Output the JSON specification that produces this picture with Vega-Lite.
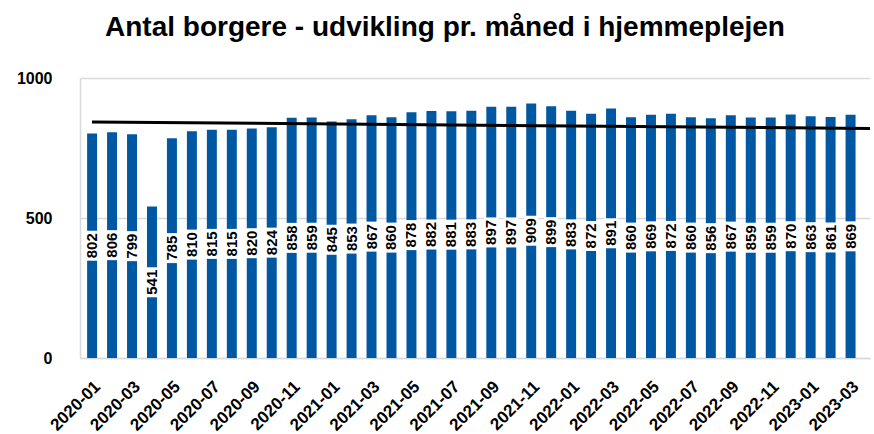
{
  "$schema": "https://vega.github.io/schema/vega-lite/v6.json",
  "width": 790,
  "height": 280,
  "autosize": "none",
  "padding": {"left": 80, "top": 78, "right": 4, "bottom": 76},
  "background": "white",
  "config": {"font": "Liberation Sans", "view": {"stroke": null}},
  "title": {"text": "Antal borgere - udvikling pr. måned i hjemmeplejen", "font": "Liberation Sans", "fontSize": 28, "fontWeight": "bold", "color": "#000000", "anchor": "middle", "dx": -30, "offset": 28},
  "datasets": {
    "main": [
      {"month": "2020-01", "value": 802}, {"month": "2020-02", "value": 806}, {"month": "2020-03", "value": 799},
      {"month": "2020-04", "value": 541}, {"month": "2020-05", "value": 785}, {"month": "2020-06", "value": 810},
      {"month": "2020-07", "value": 815}, {"month": "2020-08", "value": 815}, {"month": "2020-09", "value": 820},
      {"month": "2020-10", "value": 824}, {"month": "2020-11", "value": 858}, {"month": "2020-12", "value": 859},
      {"month": "2021-01", "value": 845}, {"month": "2021-02", "value": 853}, {"month": "2021-03", "value": 867},
      {"month": "2021-04", "value": 860}, {"month": "2021-05", "value": 878}, {"month": "2021-06", "value": 882},
      {"month": "2021-07", "value": 881}, {"month": "2021-08", "value": 883}, {"month": "2021-09", "value": 897},
      {"month": "2021-10", "value": 897}, {"month": "2021-11", "value": 909}, {"month": "2021-12", "value": 899},
      {"month": "2022-01", "value": 883}, {"month": "2022-02", "value": 872}, {"month": "2022-03", "value": 891},
      {"month": "2022-04", "value": 860}, {"month": "2022-05", "value": 869}, {"month": "2022-06", "value": 872},
      {"month": "2022-07", "value": 860}, {"month": "2022-08", "value": 856}, {"month": "2022-09", "value": 867},
      {"month": "2022-10", "value": 859}, {"month": "2022-11", "value": 859}, {"month": "2022-12", "value": 870},
      {"month": "2023-01", "value": 863}, {"month": "2023-02", "value": 861}, {"month": "2023-03", "value": 869}
    ],
    "trend": [
      {"t": 1, "value": 843},
      {"t": 40, "value": 820}
    ]
  },
  "layer": [
    {
      "data": {"name": "main"},
      "layer": [
        {
          "mark": {"type": "bar", "color": "#0058a3"},
          "encoding": {
            "x": {"field": "month", "type": "ordinal", "sort": null,
              "scale": {"paddingInner": 0.5, "paddingOuter": 0.54, "align": 0.33},
              "axis": {"title": null, "labelAngle": -45, "labelFont": "Liberation Sans", "labelFontSize": 17, "labelFontWeight": "bold", "labelColor": "#000000", "ticks": false, "domainColor": "#d9d9d9", "domainWidth": 1.5, "labelPadding": 20,
                "values": ["2020-01","2020-03","2020-05","2020-07","2020-09","2020-11","2021-01","2021-03","2021-05","2021-07","2021-09","2021-11","2022-01","2022-03","2022-05","2022-07","2022-09","2022-11","2023-01","2023-03"]}},
            "y": {"field": "value", "type": "quantitative",
              "scale": {"domain": [0, 1000], "nice": false},
              "axis": {"title": null, "values": [0, 500, 1000], "format": "d", "labelFont": "Liberation Sans", "labelFontSize": 16, "labelFontWeight": "bold", "labelColor": "#000000", "ticks": false, "domain": true, "domainColor": "#d9d9d9", "domainWidth": 1.5, "gridColor": "#d9d9d9", "gridWidth": 1.5, "labelPadding": 28}}
          }
        },
        {
          "layer": [
            {
              "mark": {"type": "tick", "color": "white", "opacity": 1, "size": 14, "thickness": 30},
              "encoding": {
                "x": {"field": "month", "type": "ordinal", "sort": null},
                "y": {"field": "value", "type": "quantitative", "scale": {"domain": [0, 2000], "nice": false}, "axis": null}
              }
            },
            {
              "mark": {"type": "text", "angle": 270, "font": "Liberation Sans", "fontSize": 15, "fontWeight": "bold", "color": "#000000", "align": "center", "baseline": "middle"},
              "encoding": {
                "x": {"field": "month", "type": "ordinal", "sort": null},
                "y": {"field": "value", "type": "quantitative", "scale": {"domain": [0, 2000], "nice": false}, "axis": null},
                "text": {"field": "value", "type": "quantitative"}
              }
            }
          ]
        }
      ],
      "resolve": {"scale": {"y": "independent"}}
    },
    {
      "data": {"name": "trend"},
      "mark": {"type": "line", "color": "#000000", "strokeWidth": 3},
      "encoding": {
        "x": {"field": "t", "type": "quantitative", "scale": {"domain": [0.4, 40], "nice": false, "zero": false}, "axis": null},
        "y": {"field": "value", "type": "quantitative", "scale": {"domain": [0, 1000], "nice": false}, "axis": null}
      }
    }
  ],
  "resolve": {"scale": {"x": "independent", "y": "independent"}}
}
